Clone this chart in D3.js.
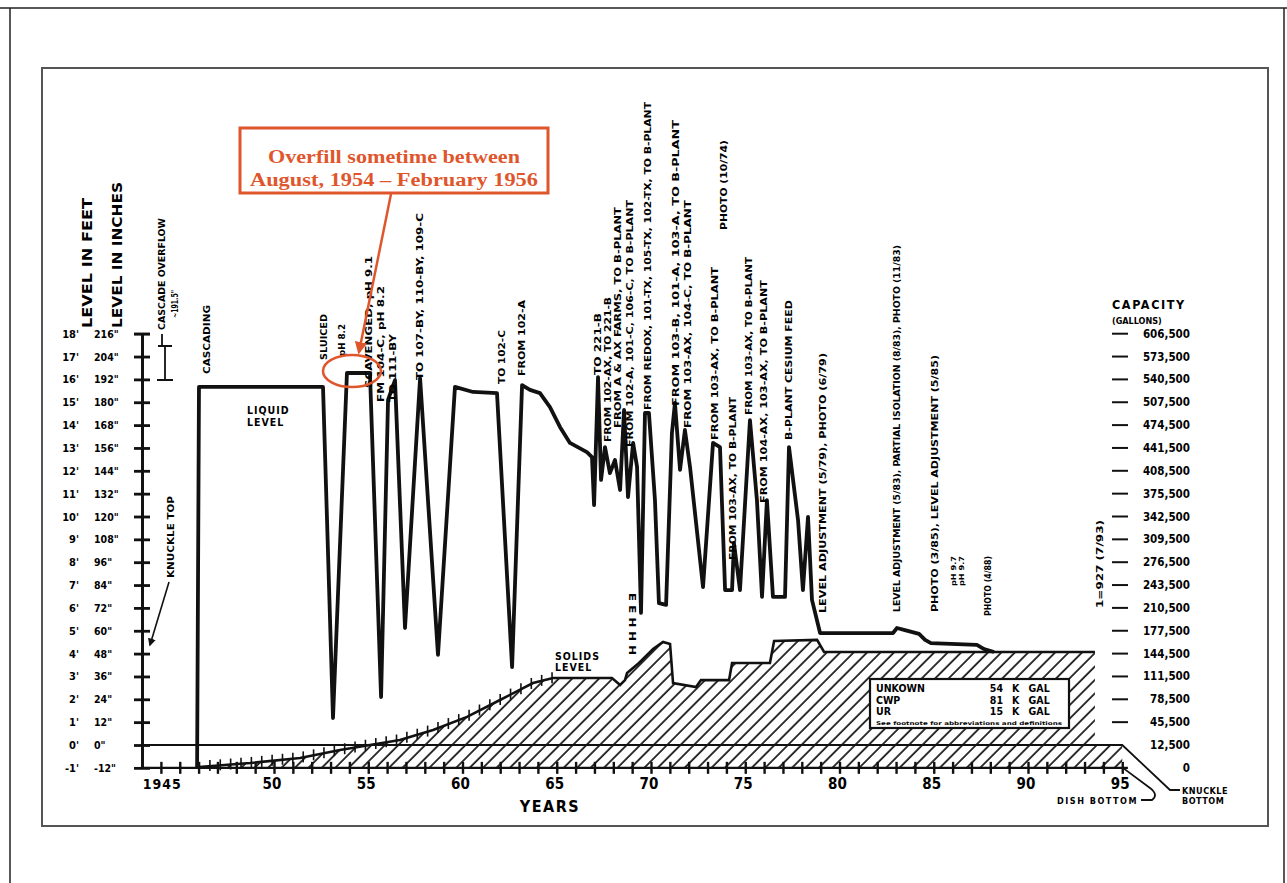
<!DOCTYPE html>
<html>
<head>
<meta charset='utf-8'>
<title>Tank level history</title>
<script src='https://cdn.jsdelivr.net/npm/d3@7/dist/d3.min.js'></script>
<style>
  body { margin: 0; background: #fff; }
  text { font-family: 'DejaVu Sans Condensed', 'DejaVu Sans', sans-serif; font-weight: bold; }
</style>
</head>
<body>
<svg width='1287' height='883'></svg>
<script>

// liquid level (years, feet)
const liquidYears = [1945.92, 1946.02, 1952.60, 1953.13, 1953.87, 1955.09, 1955.68, 1956.05, 1956.42, 1956.95,
  1957.75, 1958.70, 1959.60, 1960.56, 1961.83, 1962.63, 1963.16, 1963.58, 1964.11, 1964.64,
  1965.17, 1965.70, 1966.60, 1966.87, 1966.98, 1967.19, 1967.35, 1967.56, 1967.82, 1968.09,
  1968.36, 1968.57, 1968.78, 1969.05, 1969.26, 1969.47, 1969.68, 1969.89, 1970.21, 1970.42,
  1970.80, 1971.11, 1971.27, 1971.54, 1971.80, 1972.07, 1972.76, 1973.29, 1973.66, 1973.93,
  1974.30, 1974.40, 1974.72, 1975.25, 1975.62, 1975.89, 1976.15, 1976.47, 1977.11, 1977.32,
  1977.80, 1978.06, 1978.33, 1978.54, 1978.97, 1982.84, 1983.05, 1983.47, 1984.22, 1984.54,
  1984.85, 1987.29, 1987.67, 1988.20]
const liquidFeet = [-1.0, 15.67, 15.67, 1.18, 16.28, 16.28, 2.10, 15.10, 15.97, 5.12,
  16.06, 3.94, 15.67, 15.45, 15.40, 3.41, 15.75, 15.54, 15.40, 14.79,
  13.92, 13.22, 12.82, 12.60, 10.50, 16.10, 11.60, 13.04, 11.90, 12.47,
  11.16, 14.66, 10.85, 13.22, 12.17, 5.78, 14.53, 14.53, 10.72, 6.21,
  6.13, 13.65, 14.97, 12.04, 13.79, 12.17, 6.91, 13.22, 13.04, 6.78,
  6.78, 8.84, 6.78, 14.22, 10.72, 6.48, 10.72, 6.48, 6.48, 13.04,
  9.85, 6.78, 9.98, 6.35, 4.90, 4.90, 5.12, 5.03, 4.86, 4.60,
  4.46, 4.38, 4.20, 4.07]

// solids level (years, feet)
const solidsYears = [1946.02, 1948.73, 1951.38, 1953.50, 1956.68, 1958.44, 1960.24, 1961.99, 1963.74, 1964.80,
  1967.93, 1968.36, 1968.62, 1968.73, 1969.36, 1970.11, 1970.64, 1971.01, 1971.17, 1972.39,
  1972.65, 1974.14, 1974.30, 1976.31, 1976.53, 1978.81, 1979.18, 1993.55]
const solidsFeet = [-0.96, -0.79, -0.57, -0.22, 0.22, 0.66, 1.23, 1.97, 2.71, 2.93,
  2.93, 2.63, 2.84, 3.15, 3.59, 4.20, 4.51, 4.42, 2.71, 2.54,
  2.84, 2.84, 3.59, 3.59, 4.55, 4.60, 4.07, 4.07]

const feetValues = [-1, 0, 1, 2, 3, 4, 5, 6, 7, 8, 9, 10, 11, 12, 13, 14, 15, 16, 17, 18]
const feetLabels = ["-1'", "0'", "1'", "2'", "3'", "4'", "5'", "6'", "7'", "8'", "9'", "10'", "11'", "12'", "13'", "14'", "15'", "16'", "17'", "18'"]
const inchLabels = ['-12"', '0"', '12"', '24"', '36"', '48"', '60"', '72"', '84"', '96"', '108"', '120"', '132"', '144"', '156"', '168"', '180"', '192"', '204"', '216"']
const capacityLabels = ['0', '12,500', '45,500', '78,500', '111,500', '144,500', '177,500', '210,500', '243,500', '276,500',
  '309,500', '342,500', '375,500', '408,500', '441,500', '474,500', '507,500', '540,500', '573,500', '606,500']
const yearTicks = [1944, 1945, 1946, 1947, 1948, 1949, 1950, 1951, 1952, 1953, 1954, 1955, 1956, 1957, 1958, 1959,
  1960, 1961, 1962, 1963, 1964, 1965, 1966, 1967, 1968, 1969, 1970, 1971, 1972, 1973, 1974, 1975, 1976, 1977,
  1978, 1979, 1980, 1981, 1982, 1983, 1984, 1985, 1986, 1987, 1988, 1989, 1990, 1991, 1992, 1993, 1994, 1995]
const yearLabelValues = [1950, 1955, 1960, 1965, 1970, 1975, 1980, 1985, 1990, 1995]
const yearLabels = ['50', '55', '60', '65', '70', '75', '80', '85', '90', '95']

const inventoryNames = ['UNKOWN', 'CWP', 'UR']
const inventoryKGal = ['54', '81', '15']

// vertical event notes: text, x, bottom y, top y, font size (page layout)
const notes = [
  ['CASCADING', 207, 374, 305, 9.5],
  ['SLUICED', 324, 360, 314, 9],
  ['pH 8.2', 342, 356, 324, 8.5],
  ['SCAVENGED, pH 9.1', 369, 388, 256, 8.5],
  ['FM 104-C, pH 8.2', 381, 402, 286, 8.5],
  ['TO 111-BY', 393, 402, 334, 8.5],
  ['TO 107-BY, 110-BY, 109-C', 420, 380, 213, 9],
  ['TO 102-C', 502, 384, 330, 9],
  ['FROM 102-A', 522, 376, 300, 9],
  ['TO 221-B', 598, 375, 313, 9],
  ['FROM 102-AX, TO 221-B', 608, 442, 297, 9],
  ['FROM A & AX FARMS, TO B-PLANT', 618, 428, 207, 9],
  ['FROM 102-A, 101-C, 106-C, TO B-PLANT', 630, 447, 200, 9],
  ['FROM REDOX, 101-TX, 105-TX, 102-TX, TO B-PLANT', 648, 410, 102, 9],
  ['FROM 103-B, 101-A, 103-A, TO B-PLANT', 676, 406, 120, 9.5],
  ['FROM 103-AX, 104-C, TO B-PLANT', 688, 428, 200, 9.5],
  ['FROM 103-AX, TO B-PLANT', 715, 440, 267, 9.5],
  ['PHOTO (10/74)', 724, 230, 140, 9.5],
  ['FROM 103-AX, TO B-PLANT', 733, 560, 397, 9.5],
  ['FROM 103-AX, TO B-PLANT', 749, 415, 257, 9.5],
  ['FROM 104-AX, 103-AX, TO B-PLANT', 764, 503, 280, 9.5],
  ['B-PLANT CESIUM FEED', 789, 440, 300, 9.5],
  ['LEVEL ADJUSTMENT (5/79), PHOTO (6/79)', 823, 613, 353, 9.5],
  ['LEVEL ADJUSTMENT (5/83), PARTIAL ISOLATION (8/83), PHOTO (11/83)', 897, 612, 245, 9],
  ['PHOTO (3/85), LEVEL ADJUSTMENT (5/85)', 935, 612, 355, 9],
  ['pH 9.7', 953, 586, 556, 7],
  ['pH 9.7', 961, 586, 556, 7],
  ['PHOTO (4/88)', 988, 616, 556, 8.5],
  ['1=927 (7/93)', 1100, 608, 520, 9.5],
  ['KNUCKLE TOP', 171, 578, 496, 9],
  ['CASCADE OVERFLOW', 162, 330, 218, 9],
  ['~191.5"', 175, 318, 290, 8]
]

const svg = d3.select('svg')
const red = '#e0562c'

const x = d3.scaleLinear().domain([1950, 1995]).range([274, 1122.25])
const y = d3.scaleLinear().domain([-1, 18]).range([767.85, 333.7])
const axisX = 142

// page frames
svg.append('path').attr('d', 'M0,8 H1287 M10,8 V883 M1284,8 V883').attr('stroke', '#222').attr('stroke-width', 1.5).attr('fill', 'none')
svg.append('rect').attr('x', 42).attr('y', 68).attr('width', 1226).attr('height', 758)
  .attr('fill', 'none').attr('stroke', '#555').attr('stroke-width', 2)

// hatch for solids
const defs = svg.append('defs')
defs.append('pattern').attr('id', 'hatch').attr('patternUnits', 'userSpaceOnUse')
  .attr('width', 9.5).attr('height', 9.5).attr('patternTransform', 'rotate(45)')
  .append('line').attr('x1', 1).attr('y1', 0).attr('x2', 1).attr('y2', 9.5)
  .attr('stroke', '#111').attr('stroke-width', 1.7)
defs.append('marker').attr('id', 'arrRed').attr('viewBox', '0 0 10 10').attr('refX', 8).attr('refY', 5)
  .attr('markerWidth', 5).attr('markerHeight', 5).attr('orient', 'auto')
  .append('path').attr('d', 'M0,0 L10,5 L0,10 Z').attr('fill', red)
defs.append('marker').attr('id', 'arrBlk').attr('viewBox', '0 0 10 10').attr('refX', 8).attr('refY', 5)
  .attr('markerWidth', 5).attr('markerHeight', 5).attr('orient', 'auto')
  .append('path').attr('d', 'M0,0 L10,5 L0,10 Z').attr('fill', '#111')

const solids = solidsYears.map((v, i) => [v, solidsFeet[i]])
const hatchArea = solids.concat([[1993.55, 0], [1995, 0], [1995, -1], [1946.02, -1]])
svg.append('path').attr('d', d3.line().x(d => x(d[0])).y(d => y(d[1]))(hatchArea) + 'Z')
  .attr('fill', 'url(#hatch)').attr('stroke', 'none')
svg.append('path').attr('d', d3.line().x(d => x(d[0])).y(d => y(d[1]))(solids))
  .attr('fill', 'none').attr('stroke', '#111').attr('stroke-width', 2.6)

// small tick marks along the rising solids line
const solidsAt = yr => {
  const i = d3.bisectRight(solidsYears, yr) - 1
  const t = (yr - solidsYears[i]) / (solidsYears[i + 1] - solidsYears[i])
  return solidsFeet[i] + t * (solidsFeet[i + 1] - solidsFeet[i])
}
svg.append('g').selectAll('line').data(d3.range(1946.6, 1965, 0.55)).join('line')
  .attr('x1', d => x(d)).attr('x2', d => x(d))
  .attr('y1', d => y(solidsAt(d)) - 6).attr('y2', d => y(solidsAt(d)) + 5)
  .attr('stroke', '#111').attr('stroke-width', 1.6)

// zero line & bottoms
svg.append('path').attr('d', `M${axisX},${y(0)} H${x(1995)} L1170,790 H1180`)
  .attr('fill', 'none').attr('stroke', '#111').attr('stroke-width', 1.8)
svg.append('path').attr('d', `M${x(1995) + 2},${y(-1) + 1} L1150,788 Q1159,795 1152,800 H1141`)
  .attr('fill', 'none').attr('stroke', '#111').attr('stroke-width', 1.8)
svg.append('text').attr('x', 1138).attr('y', 804).attr('text-anchor', 'end').attr('font-size', 9).attr('letter-spacing', 1.5).text('DISH BOTTOM')
svg.append('text').attr('x', 1182).attr('y', 794).attr('font-size', 9).attr('letter-spacing', 0.5).text('KNUCKLE')
svg.append('text').attr('x', 1182).attr('y', 804).attr('font-size', 9).attr('letter-spacing', 0.5).text('BOTTOM')

// left axis with crossing ticks
const yAxisL = svg.append('g').attr('transform', `translate(${axisX},0)`)
  .call(d3.axisLeft(y).tickValues(feetValues).tickSizeInner(8).tickSizeOuter(0).tickFormat(''))
const yAxisR = svg.append('g').attr('transform', `translate(${axisX},0)`)
  .call(d3.axisRight(y).tickValues(feetValues).tickSizeInner(8).tickSizeOuter(0).tickFormat(''))
yAxisL.selectAll('path,line').attr('stroke', '#111').attr('stroke-width', 2.8)
yAxisR.selectAll('path,line').attr('stroke', '#111').attr('stroke-width', 2.8)
svg.append('line').attr('x1', axisX - 8).attr('x2', axisX + 8).attr('y1', y(18)).attr('y2', y(18)).attr('stroke', '#111').attr('stroke-width', 2)

svg.append('g').selectAll('text').data(feetValues).join('text')
  .attr('x', 79).attr('y', d => y(d) + 4).attr('text-anchor', 'end').attr('font-size', 11)
  .text((d, i) => feetLabels[i])
svg.append('g').selectAll('text').data(feetValues).join('text')
  .attr('x', 94).attr('y', d => y(d) + 4).attr('font-size', 10.5)
  .text((d, i) => inchLabels[i])

// bottom axis
const xAxisB = svg.append('g').attr('transform', `translate(0,${y(-1)})`)
  .call(d3.axisBottom(x).tickValues(yearTicks).tickSizeInner(6).tickSizeOuter(0).tickFormat(''))
const xAxisT = svg.append('g').attr('transform', `translate(0,${y(-1)})`)
  .call(d3.axisTop(x).tickValues(yearTicks).tickSizeInner(6).tickSizeOuter(0).tickFormat(''))
xAxisB.select('.domain').attr('d', `M${axisX},0 H${x(1995.3)}`)
xAxisT.select('.domain').remove()
xAxisB.selectAll('path,line').attr('stroke', '#111').attr('stroke-width', 2.4)
xAxisT.selectAll('line').attr('stroke', '#111').attr('stroke-width', 2.4)

svg.append('text').attr('x', x(1945) + 2).attr('y', 789).attr('text-anchor', 'end').attr('font-size', 14).attr('letter-spacing', 1).text('1945')
svg.append('g').selectAll('text').data(yearLabelValues).join('text')
  .attr('x', d => x(d) - 2).attr('y', 789).attr('text-anchor', 'middle').attr('font-size', 15)
  .text((d, i) => yearLabels[i])
svg.append('text').attr('x', 550).attr('y', 812).attr('text-anchor', 'middle').attr('font-size', 16).attr('letter-spacing', 1.5).text('YEARS')

// right capacity scale
svg.append('text').attr('x', 1112).attr('y', 309).attr('font-size', 12.5).attr('letter-spacing', 1.6).text('CAPACITY')
svg.append('text').attr('x', 1112).attr('y', 324).attr('font-size', 9).text('(GALLONS)')
svg.append('g').selectAll('text').data(feetValues).join('text')
  .attr('x', 1190).attr('y', d => y(d) + 4).attr('text-anchor', 'end').attr('font-size', 11.5)
  .text((d, i) => capacityLabels[i])
svg.append('g').selectAll('line').data(feetValues.filter(d => d >= 1)).join('line')
  .attr('x1', 1112).attr('x2', 1128).attr('y1', d => y(d)).attr('y2', d => y(d))
  .attr('stroke', '#111').attr('stroke-width', 2)

// liquid level trace
const liquid = liquidYears.map((v, i) => [v, liquidFeet[i]])
svg.append('path').attr('d', d3.line().x(d => x(d[0])).y(d => y(d[1]))(liquid))
  .attr('fill', 'none').attr('stroke', '#111').attr('stroke-width', 3.8).attr('stroke-linejoin', 'round')

// axis titles
svg.append('text').attr('transform', 'translate(92,328) rotate(-90)').attr('font-size', 13.5)
  .attr('textLength', 130).attr('lengthAdjust', 'spacingAndGlyphs').text('LEVEL IN FEET')
svg.append('text').attr('transform', 'translate(122,328) rotate(-90)').attr('font-size', 13.5)
  .attr('textLength', 146).attr('lengthAdjust', 'spacingAndGlyphs').text('LEVEL IN INCHES')

// vertical notes
svg.append('g').selectAll('text').data(notes).join('text')
  .attr('transform', d => `translate(${d[1]},${d[2]}) rotate(-90)`)
  .attr('dy', '0.36em').attr('font-size', d => d[4])
  .attr('textLength', d => d[2] - d[3]).attr('lengthAdjust', 'spacingAndGlyphs')
  .text(d => d[0])

// cascade overflow bracket & knuckle top leader
svg.append('path').attr('d', 'M162,334 V346 M158,346 H172 M165,346 V380 M157,380 H173')
  .attr('fill', 'none').attr('stroke', '#111').attr('stroke-width', 1.8)
svg.append('path').attr('d', 'M169,582 L150,645').attr('fill', 'none').attr('stroke', '#111')
  .attr('stroke-width', 1.6).attr('marker-end', 'url(#arrBlk)')

// text labels inside plot
svg.append('text').attr('x', 247).attr('y', 414).attr('font-size', 10.5).attr('letter-spacing', 1).text('LIQUID')
svg.append('text').attr('x', 247).attr('y', 426).attr('font-size', 10.5).attr('letter-spacing', 1).text('LEVEL')
svg.append('text').attr('x', 555).attr('y', 660).attr('font-size', 10.5).attr('letter-spacing', 1).text('SOLIDS')
svg.append('text').attr('x', 555).attr('y', 671).attr('font-size', 10.5).attr('letter-spacing', 1).text('LEVEL')
svg.append('text').attr('transform', 'translate(633,655) rotate(-90)').attr('dy', '0.35em').attr('font-size', 9.5)
  .attr('textLength', 62).attr('lengthAdjust', 'spacingAndGlyphs').text('H H H ∃ ∃')

// inventory box
const box = svg.append('g')
box.append('rect').attr('x', 870).attr('y', 679).attr('width', 199).attr('height', 49)
  .attr('fill', '#fff').attr('stroke', '#111').attr('stroke-width', 2.2)
box.selectAll('.nm').data(inventoryNames).join('text').attr('class', 'nm')
  .attr('x', 876).attr('y', (d, i) => 692 + i * 11.5).attr('font-size', 10.5).text(d => d)
box.selectAll('.vl').data(inventoryKGal).join('text').attr('class', 'vl')
  .attr('x', 1003).attr('y', (d, i) => 692 + i * 11.5).attr('text-anchor', 'end').attr('font-size', 10.5).text(d => d)
box.selectAll('.kg').data(inventoryKGal).join('text').attr('class', 'kg')
  .attr('x', 1012).attr('y', (d, i) => 692 + i * 11.5).attr('font-size', 10.5).attr('word-spacing', 6).text('K GAL')
box.append('text').attr('x', 876).attr('y', 725).attr('font-size', 5).attr('font-weight', 'normal')
  .attr('textLength', 186).attr('lengthAdjust', 'spacingAndGlyphs').text('See footnote for abbreviations and definitions')

// red callout
svg.append('rect').attr('x', 240).attr('y', 128).attr('width', 308).attr('height', 65)
  .attr('fill', '#fff').attr('stroke', red).attr('stroke-width', 3)
svg.append('text').attr('x', 394).attr('y', 163).attr('text-anchor', 'middle')
  .style('font-family', "'Liberation Serif', 'DejaVu Serif', serif").attr('font-size', 18.5).attr('fill', red)
  .attr('textLength', 252).attr('lengthAdjust', 'spacingAndGlyphs').text('Overfill sometime between')
svg.append('text').attr('x', 394).attr('y', 186).attr('text-anchor', 'middle')
  .style('font-family', "'Liberation Serif', 'DejaVu Serif', serif").attr('font-size', 18.5).attr('fill', red)
  .attr('textLength', 288).attr('lengthAdjust', 'spacingAndGlyphs').text('August, 1954 \u2013 February 1956')
svg.append('line').attr('x1', 391).attr('y1', 194).attr('x2', 359).attr('y2', 352)
  .attr('stroke', red).attr('stroke-width', 2.5).attr('marker-end', 'url(#arrRed)')
svg.append('ellipse').attr('cx', 352).attr('cy', 371).attr('rx', 29).attr('ry', 16)
  .attr('fill', 'none').attr('stroke', red).attr('stroke-width', 2.5)
</script>
</body>
</html>
